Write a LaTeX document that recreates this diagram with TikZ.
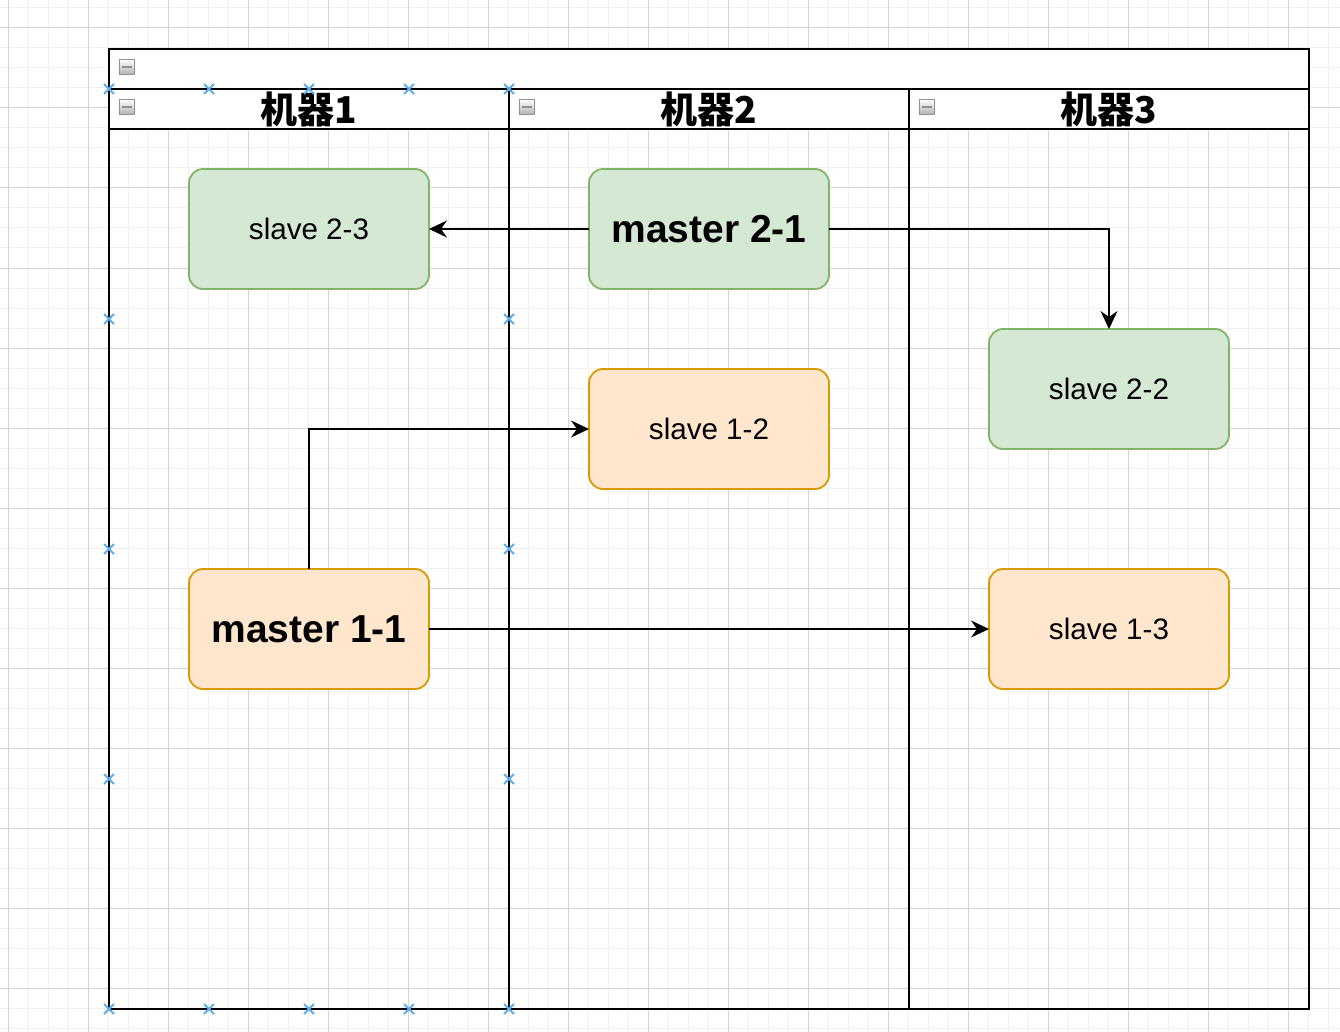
\documentclass[tikz,border=0pt]{standalone}
\usepackage{fontspec}
\setmainfont{Liberation Sans}
\newfontfamily\cjk{Noto Sans CJK SC}
\usetikzlibrary{arrows.meta, positioning}
\definecolor{nodeGreen}{HTML}{D5E8D4}
\definecolor{nodeGreenLine}{HTML}{82B366}
\definecolor{nodeOrange}{HTML}{FFE6CC}
\definecolor{nodeOrangeLine}{HTML}{D79B00}
\definecolor{gridMinor}{HTML}{F0F0F0}
\definecolor{gridMajor}{HTML}{D4D4D4}
\definecolor{handleBlue}{HTML}{5AAEEE}
\definecolor{iconEdge}{HTML}{8C919C}

\begin{document}
\begin{tikzpicture}[
  x=1pt, y=-1pt,
  box/.style={
    rectangle, rounded corners=14pt,
    minimum width=240pt, minimum height=120pt,
    inner sep=0pt, outer sep=0pt, line width=1.8pt,
    font=\fontsize{29.6}{34}\selectfont
  },
  masterbox/.style={box, font=\fontsize{39}{44}\selectfont\bfseries},
  grn/.style={fill=nodeGreen, draw=nodeGreenLine},
  org/.style={fill=nodeOrange, draw=nodeOrangeLine},
  lanehead/.style={
    rectangle, draw, fill=white, line width=2pt,
    minimum width=400pt, minimum height=40pt, inner sep=0pt, outer sep=0pt,
    font=\fontsize{37}{40}\selectfont\bfseries
  },
  fold/.style={
    rectangle, draw=iconEdge, line width=1.5pt,
    top color=white, bottom color=black!30,
    minimum size=15pt, inner sep=0pt,
    path picture={\draw[line width=2pt]
      ([xshift=-5pt]path picture bounding box.center) --
      ([xshift=5pt]path picture bounding box.center);}
  },
  link/.style={-{Stealth[length=18pt, width=17pt, inset=6pt]}, line width=1.6pt},
  handle/.style={handleBlue, line width=2pt}
]

\useasboundingbox (0,0) rectangle (1340,1032);

% background grid
\foreach \g in {8,28,...,1340} {
  \draw[gridMinor, line width=1pt] (\g,0) -- (\g,1032);
  \draw[gridMinor, line width=1pt] (0,\g) -- (1340,\g);
}
\foreach \g in {8,88,...,1340}
  \draw[gridMajor, line width=1pt] (\g,0) -- (\g,1032);
\foreach \g in {28,108,...,1032}
  \draw[gridMajor, line width=1pt] (0,\g) -- (1340,\g);

% pool and lanes
\node[lanehead, minimum width=1200pt] (pool) at (709,69) {};
\node[lanehead] (lane1) at (309,109) {\cjk 机器1};
\node[lanehead] (lane2) at (709,109) {\cjk 机器2};
\node[lanehead] (lane3) at (1109,109) {\cjk 机器3};
\draw[line width=2pt] (lane1.south west) rectangle (lane3.south east |- 0,1009);
\draw[line width=2pt] (lane1.south east) -- (lane1.south east |- 0,1009);
\draw[line width=2pt] (lane2.south east) -- (lane2.south east |- 0,1009);

\node[fold] (fold0) at (127,67) {};
\node[fold] (fold1) at (127,107) {};
\node[fold] (fold2) at (527,107) {};
\node[fold] (fold3) at (927,107) {};

% nodes
\node[box, grn] (s23) at (309,229) {slave 2-3};
\node[masterbox, grn, right=160pt of s23] (m21) {master 2-1};
\node[box, grn] (s22) at (1109,389) {slave 2-2};
\node[box, org, below=80pt of m21] (s12) {slave 1-2};
\node[masterbox, org, below=280pt of s23] (m11) {master 1-1};
\node[box, org, right=560pt of m11] (s13) {slave 1-3};

% links
\draw[link] (m21.west) -- (s23.east);
\draw[link] (m21.east) -| (s22.north);
\draw[link] (m11.north) |- (s12.west);
\draw[link] (m11.east) -- (s13.west);

% selection handles of lane 1
\foreach \hx/\hy in {109/89, 209/89, 309/89, 409/89, 509/89,
                     109/319, 509/319, 109/549, 509/549, 109/779, 509/779,
                     109/1009, 209/1009, 309/1009, 409/1009, 509/1009} {
  \draw[handle] (\hx-5,\hy-5) -- (\hx+5,\hy+5);
  \draw[handle] (\hx-5,\hy+5) -- (\hx+5,\hy-5);
}

\end{tikzpicture}
\end{document}
